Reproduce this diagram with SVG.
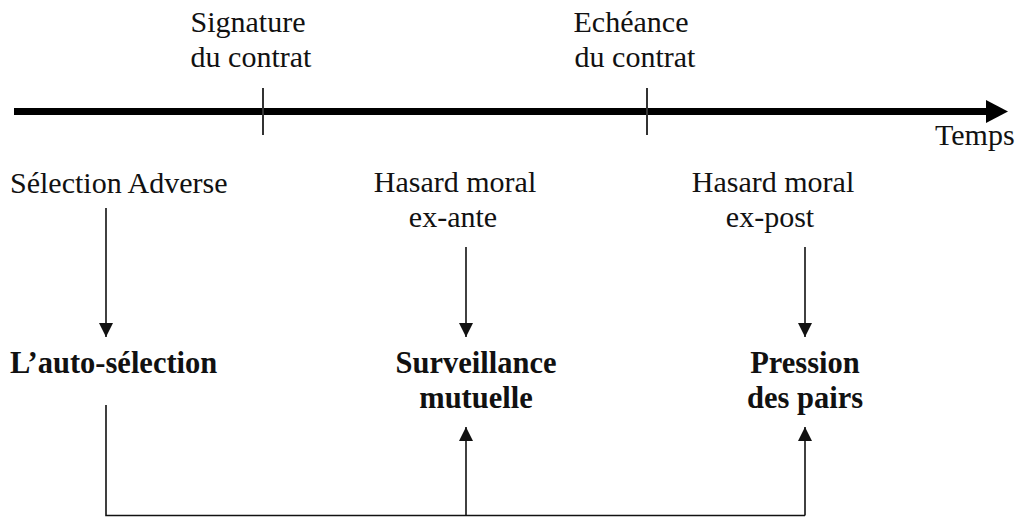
<svg xmlns="http://www.w3.org/2000/svg" width="1020" height="517" viewBox="0 0 1020 517">
<style>
.t{font-family:"Liberation Serif","Times New Roman",serif;font-size:30px;fill:#111;}
.b{font-family:"Liberation Serif","Times New Roman",serif;font-size:30.5px;font-weight:bold;fill:#111;}
.c{text-anchor:middle;}
.ln{stroke:#111;stroke-width:1.6;fill:none;}
</style>
<defs>
<marker id="ah" markerWidth="14" markerHeight="16" refX="14" refY="7" orient="auto" markerUnits="userSpaceOnUse" viewBox="0 0 14 14">
<path d="M0,0 L14,7 L0,14 Z" fill="#111"/>
</marker>
</defs>
<g id="timeline">
<line x1="14" y1="111.5" x2="990" y2="111.5" stroke="#000" stroke-width="7"/>
<path d="M986,100 L1008,111.5 L986,123 Z" fill="#000"/>
<line x1="263" y1="88" x2="263" y2="135" stroke="#333" stroke-width="2"/>
<line x1="647" y1="88" x2="647" y2="135" stroke="#333" stroke-width="2"/>
<text class="t" x="935" y="145">Temps</text>
</g>
<g id="signature">
<text class="t c" x="248" y="32">Signature</text>
<text class="t c" x="251" y="67">du contrat</text>
</g>
<g id="echeance">
<text class="t c" x="631" y="32">Echéance</text>
<text class="t c" x="635" y="67">du contrat</text>
</g>
<g id="selection-adverse">
<text class="t" x="10" y="193">Sélection Adverse</text>
</g>
<g id="hasard-ex-ante">
<text class="t c" x="455" y="192">Hasard moral</text>
<text class="t c" x="453" y="227">ex-ante</text>
</g>
<g id="hasard-ex-post">
<text class="t c" x="773" y="192">Hasard moral</text>
<text class="t c" x="770" y="227">ex-post</text>
</g>
<g id="auto-selection">
<text class="b" x="10" y="373">L’auto-sélection</text>
</g>
<g id="surveillance">
<text class="b c" x="476" y="373">Surveillance</text>
<text class="b c" x="476" y="408">mutuelle</text>
</g>
<g id="pression">
<text class="b c" x="805" y="373">Pression</text>
<text class="b c" x="805" y="408">des pairs</text>
</g>
<g id="connectors">
<line class="ln" x1="106" y1="208" x2="106" y2="337" marker-end="url(#ah)"/>
<line class="ln" x1="466" y1="247" x2="466" y2="337" marker-end="url(#ah)"/>
<line class="ln" x1="805" y1="247" x2="805" y2="337" marker-end="url(#ah)"/>
<polyline class="ln" points="106,405 106,515.5 805,515.5"/>
<line class="ln" x1="466" y1="515.5" x2="466" y2="427" marker-end="url(#ah)"/>
<line class="ln" x1="805" y1="515.5" x2="805" y2="427" marker-end="url(#ah)"/>
</g>
</svg>
